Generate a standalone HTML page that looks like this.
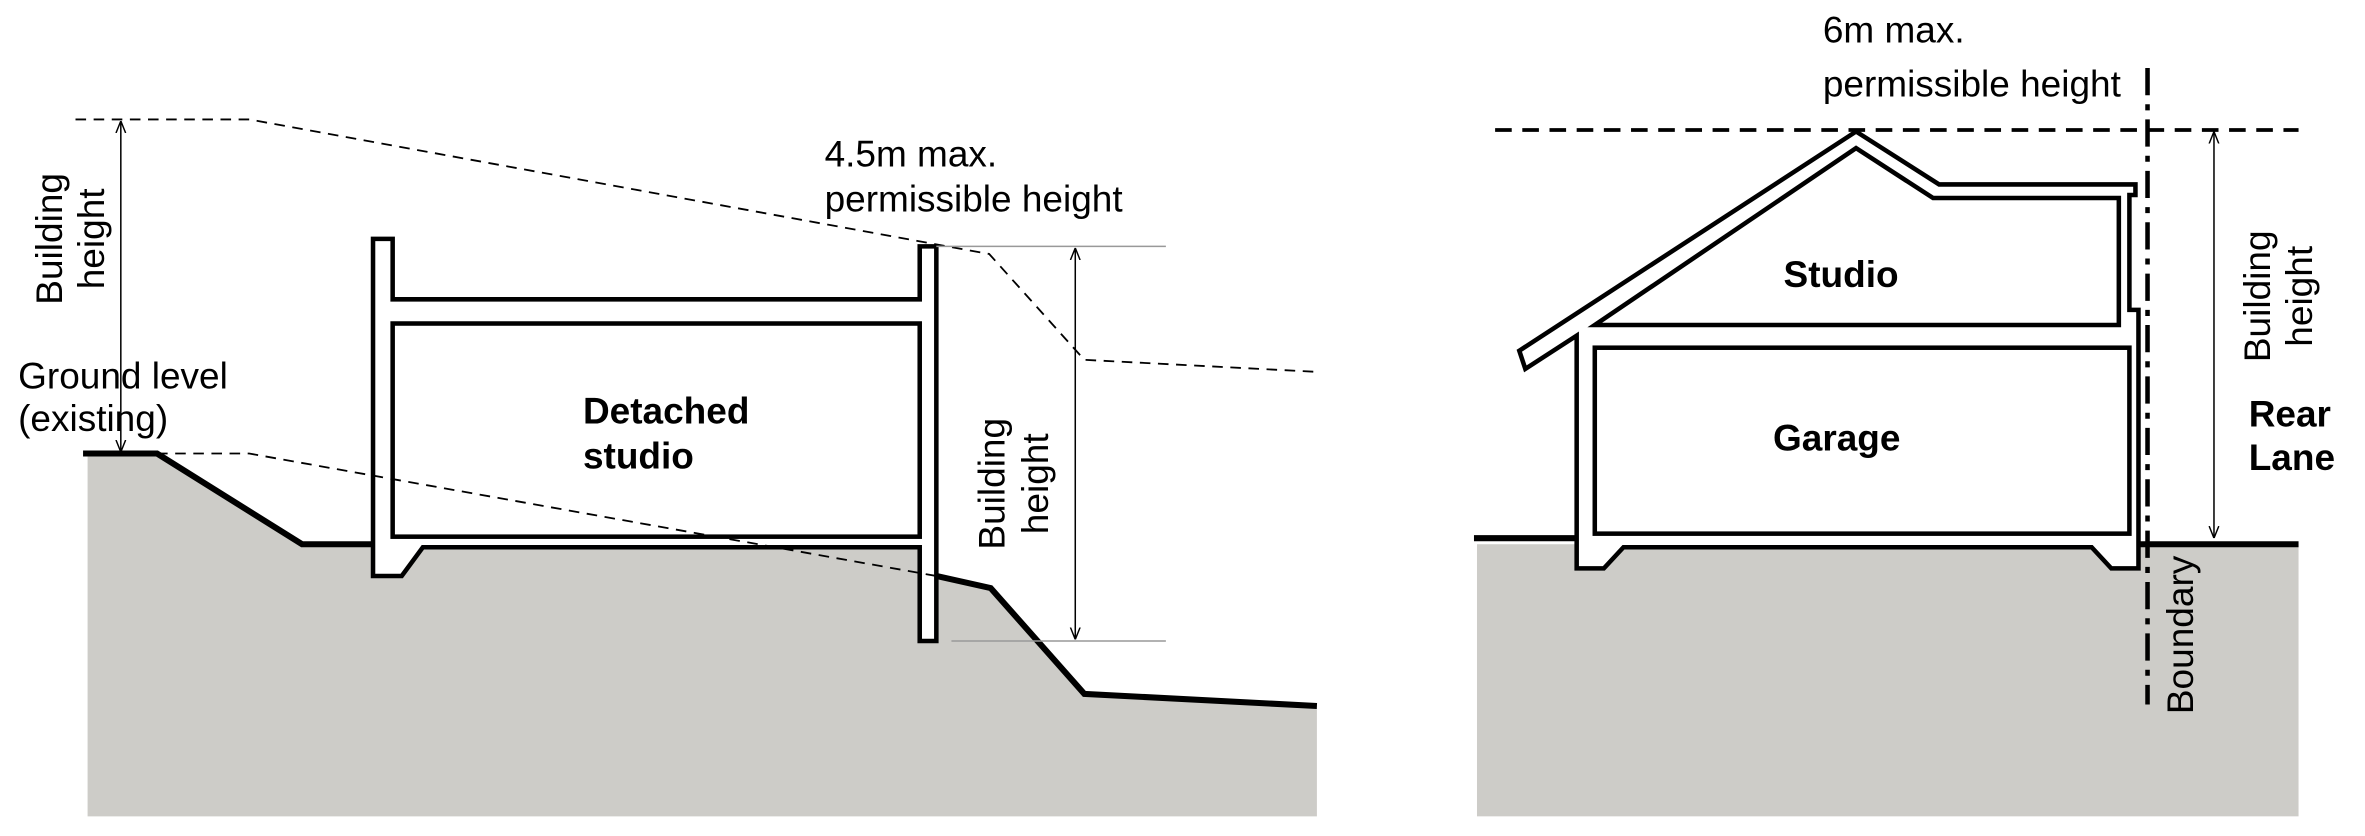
<!DOCTYPE html>
<html><head><meta charset="utf-8"><style>
html,body{margin:0;padding:0;background:#fff;}
svg{display:block;}
text{font-family:"Liberation Sans",Arial,sans-serif;font-size:24.5px;fill:#000;}
.b{font-weight:bold;}
</style></head><body>
<svg width="2365" height="836" viewBox="0 0 1566 553" preserveAspectRatio="none" xmlns="http://www.w3.org/2000/svg">
<defs>
<marker id="a" viewBox="0 0 10 10" refX="10" refY="5" markerWidth="8" markerHeight="8" orient="auto-start-reverse" markerUnits="userSpaceOnUse">
<path d="M0,1 L10,5 L0,9" fill="none" stroke="#000" stroke-width="1.2"/>
</marker>
</defs>
<!-- LEFT -->
<polygon points="58,300 104,300 200,360 247,360 620,360 620,381 656,389 718,459 872,467 872,540 58,540" fill="#cdccc8"/>
<polyline points="55,300 104,300 200,360 247,360" fill="none" stroke="#000" stroke-width="4"/>
<polyline points="620,381 656,389 718,459 872,467" fill="none" stroke="#000" stroke-width="4"/>
<path d="M247,158 L260,158 L260,198 L609,198 L609,163 L620,163 L620,424 L609,424 L609,362 L280,362 L266,381 L247,381 Z" fill="#fff" stroke="#000" stroke-width="3"/>
<rect x="260" y="214" width="349" height="141" fill="#fff" stroke="#000" stroke-width="3"/>
<polyline points="50,79 165,79 655,168 718,238 872,246" fill="none" stroke="#000" stroke-width="1.2" stroke-dasharray="7,5"/>
<polyline points="104,300 165,300 620,381" fill="none" stroke="#000" stroke-width="1.2" stroke-dasharray="7,5"/>
<line x1="620" y1="163" x2="772" y2="163" stroke="#999" stroke-width="1"/>
<line x1="630" y1="424" x2="772" y2="424" stroke="#999" stroke-width="1"/>
<line x1="80" y1="80" x2="80" y2="299" stroke="#000" stroke-width="1" marker-start="url(#a)" marker-end="url(#a)"/>
<line x1="712" y1="164" x2="712" y2="423" stroke="#000" stroke-width="1" marker-start="url(#a)" marker-end="url(#a)"/>
<text transform="translate(41,158) rotate(-90)" text-anchor="middle">Building</text>
<text transform="translate(69,158) rotate(-90)" text-anchor="middle">height</text>
<text x="12" y="257">Ground level</text>
<text x="12" y="285">(existing)</text>
<text x="546" y="110">4.5m max.</text>
<text x="546" y="140">permissible height</text>
<text x="386" y="280" class="b">Detached</text>
<text x="386" y="310" class="b">studio</text>
<text transform="translate(665,320) rotate(-90)" text-anchor="middle">Building</text>
<text transform="translate(694,320) rotate(-90)" text-anchor="middle">height</text>
<!-- RIGHT -->
<rect x="978" y="360" width="544" height="180" fill="#cdccc8"/>
<polyline points="976,356 1046,356" fill="none" stroke="#000" stroke-width="4"/>
<polyline points="1414,360 1522,360" fill="none" stroke="#000" stroke-width="4"/>
<path d="M1006,232 L1229,87 L1284,122 L1414,122 L1414,129 L1410,129 L1410,205 L1416,205 L1416,376 L1398,376 L1385,362 L1075,362 L1062,376 L1044,376 L1044,222 L1010,244 Z" fill="#fff" stroke="#000" stroke-width="3"/>
<path d="M1056,215 L1229,98 L1280,131 L1403,131 L1403,215 Z" fill="#fff" stroke="#000" stroke-width="3"/>
<rect x="1056" y="230" width="354" height="123" fill="#fff" stroke="#000" stroke-width="3"/>
<line x1="990" y1="86" x2="1522" y2="86" stroke="#000" stroke-width="2.5" stroke-dasharray="11,7"/>
<line x1="1422" y1="45" x2="1422" y2="466" stroke="#000" stroke-width="3" stroke-dasharray="18,6,4,6"/>
<line x1="1466" y1="87" x2="1466" y2="356" stroke="#000" stroke-width="1" marker-start="url(#a)" marker-end="url(#a)"/>
<text x="1207" y="28">6m max.</text>
<text x="1207" y="64">permissible height</text>
<text x="1181" y="190" class="b">Studio</text>
<text x="1174" y="298" class="b">Garage</text>
<text transform="translate(1503,196) rotate(-90)" text-anchor="middle">Building</text>
<text transform="translate(1531,196) rotate(-90)" text-anchor="middle">height</text>
<text x="1489" y="282" class="b">Rear</text>
<text x="1489" y="311" class="b">Lane</text>
<text transform="translate(1452,420) rotate(-90)" text-anchor="middle">Boundary</text>
</svg>
</body></html>
